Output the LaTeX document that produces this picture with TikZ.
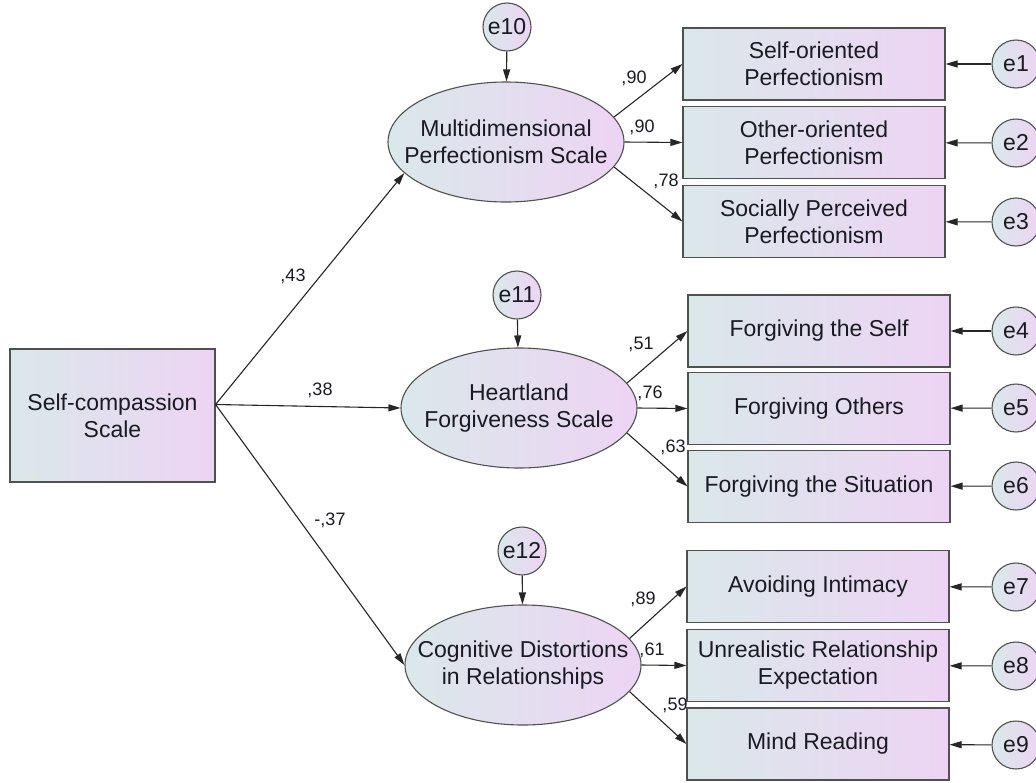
\documentclass[tikz,border=0pt]{standalone}
\usepackage{fontspec}
\setmainfont{Liberation Sans}
\usetikzlibrary{shapes.geometric,arrows.meta}

\definecolor{fillleft}{HTML}{DAE8EA}
\definecolor{fillright}{HTML}{EDD4F4}
\definecolor{edgegray}{HTML}{505050}
\definecolor{inkdark}{HTML}{1A1A22}

\tikzset{
    obs/.style={draw=edgegray, line width=1.1pt, left color=fillleft, right color=fillright,
        minimum width=262pt, minimum height=72pt, inner sep=2pt, align=center,
        font=\fontsize{23}{27}\selectfont, text=inkdark},
    lat/.style={ellipse, draw=edgegray, line width=1.1pt, left color=fillleft, right color=fillright,
        minimum width=236pt, minimum height=120pt, inner xsep=-30pt, inner ysep=0pt, align=center,
        font=\fontsize{23}{27}\selectfont, text=inkdark},
    err/.style={circle, draw=edgegray, line width=1.1pt, left color=fillleft, right color=fillright,
        minimum size=48pt, inner sep=0pt, font=\fontsize{23}{27}\selectfont, text=inkdark},
    reg/.style={draw=black!85, line width=1.1pt, -{Triangle[length=12pt,width=7pt]}},
    coef/.style={inner sep=0pt, font=\fontsize{18}{20}\selectfont, text=inkdark},
}

\begin{document}
\begin{tikzpicture}[x=1pt, y=-1pt]
    \useasboundingbox (0,0) rectangle (1036,782);

    \node[obs, minimum width=205pt, minimum height=133pt] (sc) at (112.5,415.5) {Self-compassion\\Scale};
    \coordinate (scout) at ([yshift=11pt]sc.east);

    \node[lat] (mps) at (506,142) {Multidimensional\\Perfectionism Scale};
    \node[lat] (hfs) at (519,408) {Heartland\\Forgiveness Scale};
    \node[lat] (cdr) at (523,665) {Cognitive Distortions\\in Relationships};

    \node[err] (e10) at (507,27) {e10};
    \node[err] (e11) at (517,295) {e11};
    \node[err] (e12) at (522,551) {e12};

    \node[obs] (sop) at (814,64) {Self-oriented\\Perfectionism};
    \node[obs] (oop) at (814,142.5) {Other-oriented\\Perfectionism};
    \node[obs] (spp) at (814,221.5) {Socially Perceived\\Perfectionism};
    \node[obs] (fse) at (819,331) {Forgiving the Self};
    \node[obs] (fot) at (819,408.5) {Forgiving Others};
    \node[obs] (fsi) at (819,486.5) {Forgiving the Situation};
    \node[obs] (avi) at (818,586.5) {Avoiding Intimacy};
    \node[obs] (ure) at (818,665.5) {Unrealistic Relationship\\Expectation};
    \node[obs] (mre) at (818,744) {Mind Reading};

    \node[err] (e1) at (1016,64) {e1};
    \node[err] (e2) at (1016,143) {e2};
    \node[err] (e3) at (1016,222) {e3};
    \node[err] (e4) at (1016,331) {e4};
    \node[err] (e5) at (1016,408) {e5};
    \node[err] (e6) at (1016,486) {e6};
    \node[err] (e7) at (1016,587) {e7};
    \node[err] (e8) at (1016,666) {e8};
    \node[err] (e9) at (1016,745) {e9};

    % structural paths
    \draw[reg] (scout) to (mps.197);
    \draw[reg] (scout) to (hfs.west);
    \draw[reg] (scout) to (cdr.west);
    \node[coef] (c43) at (293,276) {,43};
    \node[coef] (c38) at (320,390) {,38};
    \node[coef] (c37) at (330,520) {-,37};

    % disturbances
    \draw[reg] (e10) to (mps);
    \draw[reg] (e11) to (hfs);
    \draw[reg] (e12) to (cdr);

    % loadings
    \draw[reg] (mps.13) to (sop.west);
    \draw[reg] (mps.east) to (oop.west);
    \draw[reg] (mps.-13) to (spp.west);
    \draw[reg] (hfs.13) to (fse.west);
    \draw[reg] (hfs.east) to (fot.west);
    \draw[reg] (hfs.-13) to (fsi.west);
    \draw[reg] (cdr.14) to (avi.west);
    \draw[reg] (cdr.east) to (ure.west);
    \draw[reg] (cdr.-14) to (mre.west);
    \node[coef] (c90a) at (634,78) {,90};
    \node[coef] (c90b) at (642,127) {,90};
    \node[coef] (c78) at (666,181) {,78};
    \node[coef] (c51) at (641,344) {,51};
    \node[coef] (c76) at (650,393) {,76};
    \node[coef] (c63) at (673,447) {,63};
    \node[coef] (c89) at (643,599) {,89};
    \node[coef] (c61) at (652,650) {,61};
    \node[coef] (c59) at (675,705) {,59};

    % measurement errors
    \draw[reg] (e1) to (sop);
    \draw[reg] (e2) to (oop);
    \draw[reg] (e3) to (spp);
    \draw[reg] (e4) to (fse);
    \draw[reg] (e5) to (fot);
    \draw[reg] (e6) to (fsi);
    \draw[reg] (e7) to (avi);
    \draw[reg] (e8) to (ure);
    \draw[reg] (e9) to (mre);
\end{tikzpicture}
\end{document}
